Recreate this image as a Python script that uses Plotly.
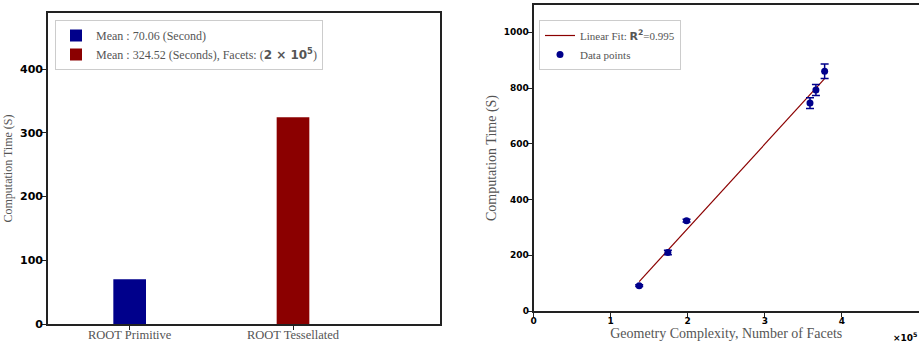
import numpy as np
import plotly.graph_objects as go

# ---- Data ----
bar_categories = ["ROOT Primitive", "ROOT Tessellated"]
bar_positions = [0, 1]
bar_values = [70.06, 324.52]
bar_legend = [
    "Mean : 70.06 (Second)",
    "Mean : 324.52 (Seconds), Facets: (<span style='font-family:DejaVu Sans'><b>2 × 10<sup>5</sup></b></span>)",
]

facets = [1.371, 1.743, 1.985, 3.586, 3.663, 3.776]   # x 1e5
times = [91, 210, 324, 746, 793, 860]
time_err = [3, 8, 5, 19, 20, 26]
r2_text = "0.995"

slope, intercept = np.polyfit(facets, times, 1)
fit_x = [min(facets), max(facets)]
fit_y = [slope * v + intercept for v in fit_x]

BLUE = "#00008B"
RED = "#8B0000"
SERIF = "Liberation Serif, DejaVu Serif, serif"
SANS = "DejaVu Sans, sans-serif"
GRAY = "#555555"

fig = go.Figure()

fig.add_trace(go.Bar(x=[bar_positions[0]], y=[bar_values[0]], width=0.2,
                     marker=dict(color=BLUE, line=dict(width=0)),
                     name=bar_legend[0], xaxis="x", yaxis="y", legend="legend"))
fig.add_trace(go.Bar(x=[bar_positions[1]], y=[bar_values[1]], width=0.2,
                     marker=dict(color=RED, line=dict(width=0)),
                     name=bar_legend[1], xaxis="x", yaxis="y", legend="legend"))

fig.add_trace(go.Scatter(x=fit_x, y=fit_y, mode="lines",
                         line=dict(color=RED, width=1.2),
                         name="Linear Fit: <span style='font-family:DejaVu Sans'><b>R<sup>2</sup></b></span>=" + r2_text,
                         xaxis="x2", yaxis="y2", legend="legend2"))
fig.add_trace(go.Scatter(x=facets, y=times, mode="markers",
                         marker=dict(color=BLUE, size=7),
                         error_y=dict(type="data", array=time_err, color=BLUE, thickness=1.5, width=4),
                         name="Data points", xaxis="x2", yaxis="y2", legend="legend2"))

axis_common = dict(showline=True, linecolor="#222222", linewidth=1.6, mirror=True,
                   ticks="outside", ticklen=4, tickcolor="#222222", tickwidth=1,
                   showgrid=False, zeroline=False, automargin=False)

fig.update_layout(
    width=919, height=342,
    margin=dict(l=0, r=0, t=0, b=0),
    paper_bgcolor="white", plot_bgcolor="white",
    showlegend=True,
    barmode="overlay",
    xaxis=dict(domain=[48/919, 440/919], range=[-0.5, 1.9],
               tickvals=bar_positions, ticktext=bar_categories,
               tickfont=dict(family=SERIF, size=12.5, color=GRAY), ticklabelstandoff=-6,
               anchor="y", **axis_common),
    yaxis=dict(domain=[18/342, 329/342], range=[0, 488],
               tickvals=[0, 100, 200, 300, 400],
               tickfont=dict(family=SANS, size=11, color="black", weight="bold"),
               ticklabelstandoff=-3,
               title=dict(text="Computation Time (S)", font=dict(family=SERIF, size=12, color=GRAY), standoff=5),
               anchor="x", **axis_common),
    xaxis2=dict(domain=[533.5/919, 1.0], range=[0, 5],
                tickvals=[0, 1, 2, 3, 4, 5],
                tickfont=dict(family=SANS, size=9, color="black", weight="bold"),
                ticklabelstandoff=-4,
                title=dict(text="Geometry Complexity, Number of Facets", font=dict(family=SERIF, size=14, color=GRAY), standoff=4),
                anchor="y2", **axis_common),
    yaxis2=dict(domain=[31/342, 337/342], range=[0, 1098],
                tickvals=[0, 200, 400, 600, 800, 1000],
                tickfont=dict(family=SANS, size=9, color="black", weight="bold"),
                ticklabelstandoff=-3,
                title=dict(text="Computation Time (S)", font=dict(family=SERIF, size=14, color=GRAY), standoff=4),
                anchor="x2", **axis_common),
    legend=dict(x=55/919, y=(342-20)/342, xanchor="left", yanchor="top",
                bgcolor="white", bordercolor="#cccccc", borderwidth=1,
                font=dict(family=SERIF, size=12, color=GRAY), tracegroupgap=2),
    legend2=dict(x=539/919, y=(342-20)/342, xanchor="left", yanchor="top",
                 bgcolor="white", bordercolor="#cccccc", borderwidth=1,
                 font=dict(family=SERIF, size=11, color=GRAY)),
    annotations=[dict(text="×10<sup>5</sup>", xref="paper", yref="paper", x=1.0, y=-0.008,
                      xanchor="right", yanchor="bottom", showarrow=False,
                      font=dict(family=SANS, size=9, color="black", weight="bold"))],
)

fig.write_html("out.html", config={"displayModeBar": False},
               post_script="document.body.style.margin='0';document.body.style.overflow='hidden';")
